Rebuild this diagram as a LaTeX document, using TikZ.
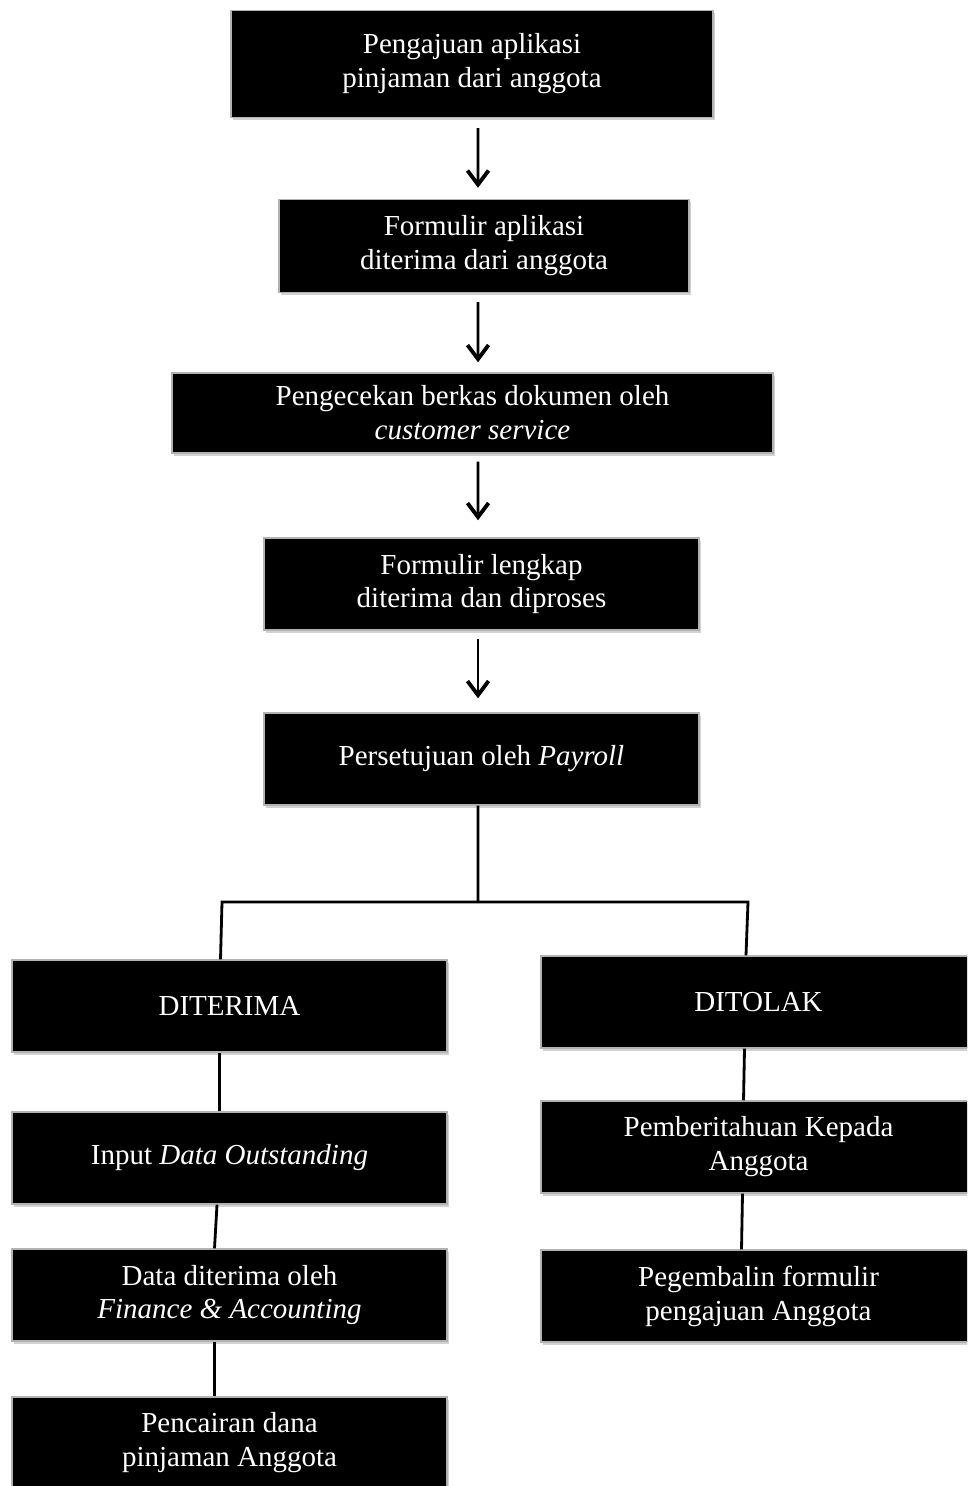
\documentclass[tikz,border=0pt]{standalone}
\usepackage{fontspec}
\setmainfont{Liberation Serif}
\usetikzlibrary{arrows.meta,shadows}
\begin{document}
\begin{tikzpicture}[x=0.02cm,y=-0.02cm,
  every node/.style={font=\fontsize{16.5}{19.3}\selectfont},
  blok/.style={draw=gray!60,line width=0.8pt,fill=black,text=white,align=center,
    minimum width=8.7cm,minimum height=1.84cm,inner sep=0pt,
    drop shadow={shadow xshift=1pt,shadow yshift=-1.5pt,fill=gray!70}},
  panah/.style={-{Straight Barb[length=8pt,width=12pt,line width=2.2pt]},line width=1.6pt},
  garis/.style={line width=1.6pt}]
\clip (0,0) rectangle (967,1486);
\node[blok,minimum width=9.64cm,minimum height=2.14cm] (aju) at (472,64) {Pengajuan aplikasi\\pinjaman dari anggota};
\node[blok,minimum width=8.2cm,minimum height=1.86cm] (form) at (484,246) {Formulir aplikasi\\diterima dari anggota};
\node[blok,minimum width=12.02cm,minimum height=1.6cm] (cek) at (472.5,413) {Pengecekan berkas dokumen oleh\\\textit{customer service}};
\node[blok] (lengkap) at (481.5,584) {Formulir lengkap\\diterima dan diproses};
\node[blok] (setuju) at (481.5,759) {Persetujuan oleh \textit{Payroll}};
\node[blok] (terima) at (229.5,1006) {DITERIMA};
\node[blok] (tolak) at (758.5,1002) {DITOLAK};
\node[blok] (input) at (229.5,1158) {Input \textit{Data Outstanding}};
\node[blok] (beritahu) at (758.5,1147) {Pemberitahuan Kepada\\Anggota};
\node[blok] (finance) at (229.5,1295) {Data diterima oleh\\\textit{Finance \& Accounting}};
\node[blok] (kembali) at (758.5,1296) {Pegembalin formulir\\pengajuan Anggota};
\node[blok] (cair) at (229.5,1443) {Pencairan dana\\pinjaman Anggota};
% alur utama
\draw[panah] ([xshift=0.12cm,yshift=-0.2cm]aju.south) -- ([xshift=-0.12cm,yshift=0.22cm]form.north);
\draw[panah] ([xshift=-0.12cm,yshift=-0.18cm]form.south) -- ([xshift=0.11cm,yshift=0.2cm]cek.north);
\draw[panah] ([xshift=0.11cm,yshift=-0.16cm]cek.south) -- ([xshift=-0.07cm,yshift=0.34cm]lengkap.north);
\draw[panah] ([xshift=-0.07cm,yshift=-0.16cm]lengkap.south) -- ([xshift=-0.07cm,yshift=0.28cm]setuju.north);
% cabang
\coordinate (cab) at (478,902);
\draw[garis] ([xshift=-0.07cm]setuju.south) -- (cab);
\draw[garis] (cab) -- (222,902) -- ([xshift=-0.18cm]terima.north);
\draw[garis] (cab) -- (748,902) -- ([xshift=-0.25cm]tolak.north);
\draw[garis] ([xshift=-0.2cm]terima.south) -- ([xshift=-0.2cm]input.north);
\draw[garis] ([xshift=-0.25cm]input.south) -- ([xshift=-0.3cm]finance.north);
\draw[garis] ([xshift=-0.3cm]finance.south) -- ([xshift=-0.3cm]cair.north);
\draw[garis] ([xshift=-0.28cm]tolak.south) -- ([xshift=-0.3cm]beritahu.north);
\draw[garis] ([xshift=-0.32cm]beritahu.south) -- ([xshift=-0.34cm]kembali.north);
\end{tikzpicture}
\end{document}
